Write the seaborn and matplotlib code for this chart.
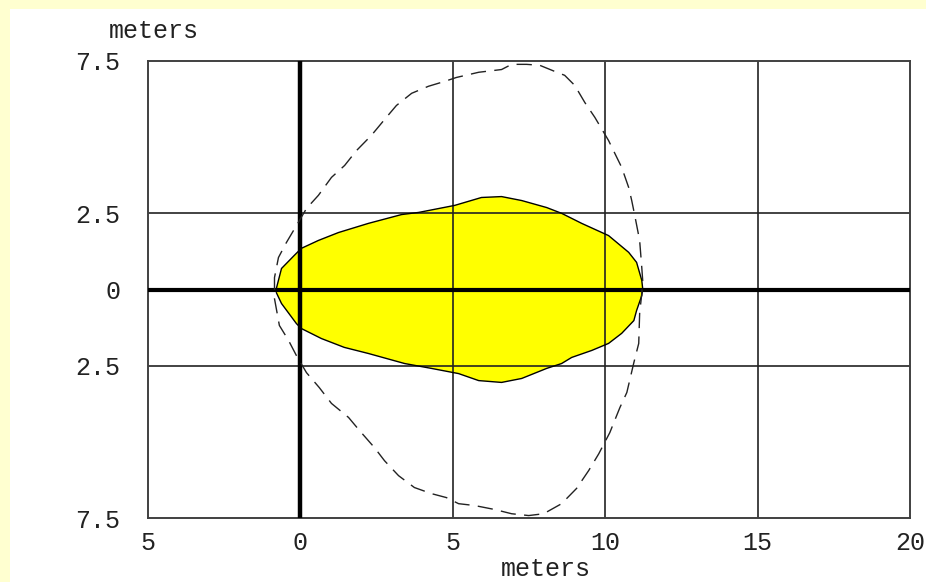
import matplotlib
matplotlib.use('Agg')
import matplotlib.pyplot as plt
from matplotlib.patches import Rectangle
import seaborn as sns

# Inner (filled) contour, closed loop
inner_x = [-0.79, -0.62, -0.20, 0.03, 0.59, 1.25, 2.23, 3.32, 3.88, 5.06, 5.94, 6.60,
           7.26, 8.08, 8.57, 9.23, 10.11, 10.77, 11.03, 11.20, 11.23, 11.20, 11.03,
           10.94, 10.54, 10.11, 9.56, 8.90, 8.57, 8.08, 7.26, 6.60, 5.85, 5.19, 4.30,
           3.42, 2.23, 1.44, 0.69, 0.03, -0.13, -0.62, -0.79]
inner_y = [0.03, 0.69, 1.12, 1.35, 1.61, 1.87, 2.17, 2.46, 2.53, 2.76, 3.02, 3.05,
           2.92, 2.69, 2.50, 2.17, 1.77, 1.22, 0.89, 0.30, 0.03, -0.20, -0.69,
           -1.02, -1.44, -1.77, -2.00, -2.23, -2.43, -2.59, -2.92, -3.05, -2.99, -2.76, -2.59,
           -2.43, -2.10, -1.90, -1.61, -1.28, -1.12, -0.46, -0.10]

# Outer dashed contour
outer_x = [-0.85, -0.85, -0.72, -0.46, -0.07, 0.20, 0.59, 1.02, 1.45, 1.84, 2.33, 2.82,
           3.15, 3.65, 4.20, 4.73, 5.12, 5.85, 6.60, 6.93, 7.42, 7.85, 8.34, 8.67, 9.00,
           9.33, 9.66, 10.11, 10.54, 10.77, 10.87, 10.97, 11.13, 11.20, 11.23,
           11.20, 11.13, 11.10, 10.94, 10.71, 10.48, 10.15, 9.79, 9.46, 9.06, 8.57, 7.98,
           7.49, 6.93, 6.37, 5.71, 5.19, 4.79, 4.30, 3.74, 3.22, 2.76, 2.43, 1.94, 1.58,
           1.02, 0.62, 0.20, -0.13, -0.39, -0.69, -0.85, -0.85]
outer_y = [0.03, 0.39, 1.05, 1.54, 2.20, 2.66, 3.09, 3.68, 4.07, 4.56, 5.06, 5.65,
           6.04, 6.44, 6.67, 6.83, 6.96, 7.13, 7.22, 7.39, 7.39, 7.36, 7.16, 7.03, 6.70,
           6.14, 5.65, 4.89, 4.01, 3.35, 2.92, 2.43, 1.61, 0.72, 0.30,
           -0.13, -0.79, -1.77, -2.40, -3.38, -3.88, -4.70, -5.39, -5.94, -6.53, -7.03, -7.36,
           -7.42, -7.36, -7.22, -7.09, -7.03, -6.83, -6.70, -6.50, -6.11, -5.62, -5.19, -4.63, -4.20,
           -3.74, -3.22, -2.73, -2.17, -1.67, -1.18, -0.30, 0.03]

x_ticks = [-5, 0, 5, 10, 15, 20]
x_tick_labels = ['5', '0', '5', '10', '15', '20']
y_ticks = [-7.5, -2.5, 0, 2.5, 7.5]
y_tick_labels = ['7.5', '2.5', '0', '2.5', '7.5']
x_grid = [5, 10, 15]
y_grid = [-2.5, 2.5]

sns.set_style('white')
plt.rcParams['font.family'] = ['Liberation Mono', 'DejaVu Sans Mono']

fig = plt.figure(figsize=(9.26, 5.82), dpi=100, facecolor='#FFFFD0')
fig.add_artist(Rectangle((10 / 926, 0), 1, (582 - 9) / 582, transform=fig.transFigure,
                         facecolor='white', edgecolor='none', zorder=0))
ax = fig.add_axes([148 / 926, 64 / 582, 762 / 926, 457 / 582])
ax.set_facecolor('white')

# yellow region
ax.fill(inner_x, inner_y, facecolor='#FFFF00', edgecolor='none', zorder=1)
sns.lineplot(x=inner_x, y=inner_y, sort=False, estimator=None, ax=ax,
             color='black', lw=1.0, zorder=4)

# dashed outer contour
sns.lineplot(x=outer_x, y=outer_y, sort=False, estimator=None, ax=ax,
             color='#222222', lw=1.0, zorder=4)
ax.lines[-1].set_dashes((11, 6))

# grid and axes lines
for gx in x_grid:
    ax.axvline(gx, color='#222222', lw=1.2, zorder=2)
for gy in y_grid:
    ax.axhline(gy, color='#222222', lw=1.2, zorder=2)
ax.axvline(0, color='black', lw=3.2, zorder=3)
ax.axhline(0, color='black', lw=3.0, zorder=3)

ax.set_xlim(-5, 20)
ax.set_ylim(-7.5, 7.5)
ax.set_xticks(x_ticks)
ax.set_xticklabels(x_tick_labels)
ax.set_yticks(y_ticks)
ax.set_yticklabels(y_tick_labels)
ax.tick_params(axis='both', length=0, labelsize=18, colors='#222222')
ax.tick_params(axis='x', pad=9)
ax.tick_params(axis='y', pad=20)
ax.set_xlabel('')
ax.set_ylabel('')
for s in ax.spines.values():
    s.set_color('#404040')
    s.set_linewidth(1.4)
    s.set_visible(True)

fig.text(154 / 926, 1 - 31 / 582, 'meters', ha='center', va='center', fontsize=18, color='#222222')
fig.text(546 / 926, 1 / 582, 'meters', ha='center', va='bottom', fontsize=18, color='#222222')

fig.savefig('out.png', dpi=100, facecolor=fig.get_facecolor())
